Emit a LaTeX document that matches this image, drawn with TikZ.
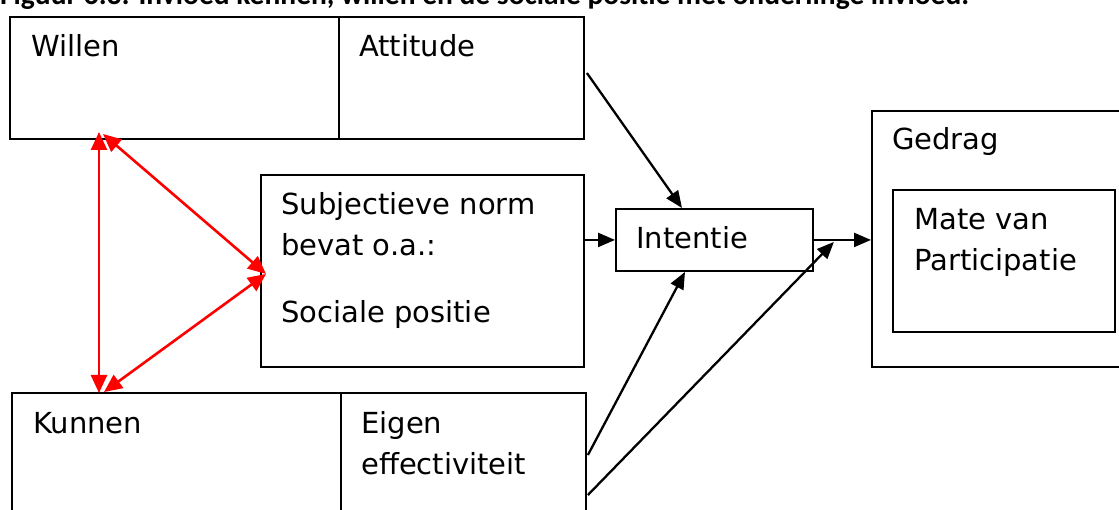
\documentclass[tikz,border=0pt]{standalone}
\usepackage{fontspec}
\setmainfont{DejaVu Sans}
\newfontfamily\capfont{Carlito}
\usetikzlibrary{arrows.meta,calc}

\tikzset{
  box/.style={draw, line width=1.9pt, anchor=north west, inner sep=0pt},
  lbl/.style={anchor=base west, inner sep=0pt, font=\fontsize{29}{35}\selectfont},
  blk/.style={-{Triangle[length=17pt,width=14pt]}, line width=2.3pt},
  rood/.style={{Triangle[length=18pt,width=16pt]}-{Triangle[length=18pt,width=16pt]}, red, line width=2.6pt},
}

\begin{document}
\begin{tikzpicture}[x=1pt,y=-1pt]
\useasboundingbox (0,0) rectangle (1119,510);
\clip (0,0) rectangle (1119,510);

% caption, cut off at the top
\node[anchor=base west, inner sep=0pt, font=\capfont\bfseries\fontsize{29.5}{34}\selectfont] (titel) at (0,5) {Figuur 6.3: Invloed kennen, willen en de sociale positie met onderlinge invloed.};

% boxes
\node[box, minimum width=329pt, minimum height=122pt] (willen) at (9,16) {};
\node[box, minimum width=245pt, minimum height=122pt] (attitude) at (338,16) {};
\node[box, minimum width=323pt, minimum height=192pt] (norm) at (260,174) {};
\node[box, minimum width=197pt, minimum height=62pt] (intentie) at (615,208) {};
\node[box, minimum width=260pt, minimum height=256pt] (gedrag) at (871,110) {};
\node[box, minimum width=222pt, minimum height=142pt] (mate) at (892,189) {};
\node[box, minimum width=329pt, minimum height=140pt] (kunnen) at (11,392) {};
\node[box, minimum width=245pt, minimum height=140pt] (eigen) at (340,392) {};

% texts
\node[lbl] (tWillen) at (31,57) {Willen};
\node[lbl] (tAttitude) at (359,57) {Attitude};
\node[lbl] (tNorm1) at (281,215) {Subjectieve norm};
\node[lbl] (tNorm2) at (281,256) {bevat o.a.:};
\node[lbl] (tNorm3) at (281,323) {Sociale positie};
\node[lbl] (tIntentie) at (636,249) {Intentie};
\node[lbl] (tGedrag) at (892,150) {Gedrag};
\node[lbl] (tMate1) at (914,230) {Mate van};
\node[lbl] (tMate2) at (914,271) {Participatie};
\node[lbl] (tKunnen) at (33,433) {Kunnen};
\node[lbl] (tEigen1) at (361,433) {Eigen};
\node[lbl] (tEigen2) at (361,474) {effectiviteit};

% black arrows
\coordinate (samen) at ($(intentie.east)+(20,2)$);
\draw[blk] ($(attitude.north east)+(2,57)$) -- ($(intentie.north west)+(67,0)$);
\draw[blk] (norm.east |- intentie.west) -- (intentie.west);
\draw[blk] (intentie.east) -- (intentie.east -| gedrag.west);
\draw[blk] ($(eigen.north east)+(1,63)$) -- ($(intentie.south west)+(70,0)$);
\draw[blk] ($(eigen.north east)+(1,103)$) -- (samen);

% red arrows
\coordinate (wv) at (99,132);
\coordinate (wd) at (103,134);
\coordinate (kv) at (99,393);
\coordinate (kd) at (104,392);
\coordinate (nl) at ($(norm.west)+(6,3)$);
\draw[rood] (wv) -- (kv);
\draw[rood] (wd) -- (nl);
\draw[rood] (nl) -- (kd);

\end{tikzpicture}
\end{document}
